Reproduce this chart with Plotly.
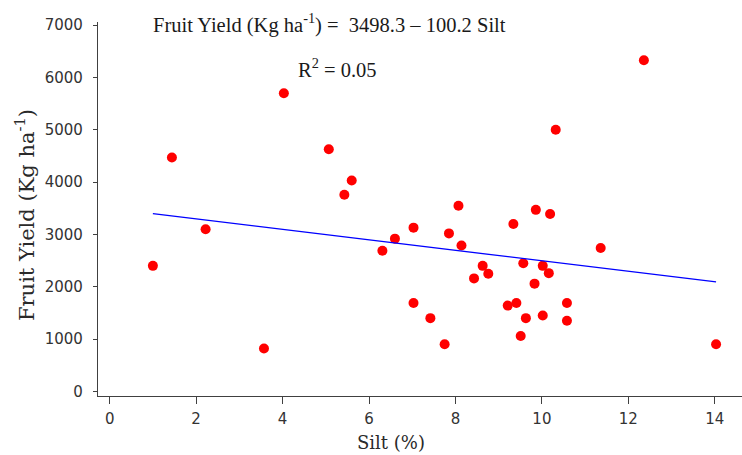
import plotly.graph_objects as go

# Silt content (%) and fruit yield (Kg/ha) for each sampled plot
silt = [1.00, 1.44, 2.22, 3.57, 4.03, 5.07, 5.43, 5.60, 6.31, 6.60,
        7.03, 7.03, 7.42, 7.75, 7.85, 8.07, 8.14, 8.43, 8.63, 8.76,
        9.21, 9.34, 9.41, 9.51, 9.57, 9.63, 9.86, 9.83, 10.02, 10.02,
        10.19, 10.16, 10.32, 10.58, 10.58, 11.36, 12.36, 14.03]
fruit_yield = [2400, 4470, 3100, 820, 5700, 4630, 3760, 4030, 2690, 2920,
               3130, 1690, 1400, 900, 3020, 3550, 2790, 2160, 2400, 2250,
               1640, 3200, 1690, 1060, 2450, 1400, 3470, 2060, 2400, 1450,
               3390, 2260, 5000, 1690, 1350, 2740, 6330, 900]

# Fitted linear model: yield = a + b * silt
intercept = 3498.3
slope = -100.2
r_squared = 0.05

x_ticks = [0, 2, 4, 6, 8, 10, 12, 14]
y_ticks = [0, 1000, 2000, 3000, 4000, 5000, 6000, 7000]

fit_x = [min(silt), max(silt)]
fit_y = [intercept + slope * v for v in fit_x]

serif = "Liberation Serif, Times New Roman, serif"
wide_serif = "DejaVu Serif, serif"
tick_font = "DejaVu Sans, sans-serif"
axis_col = "#404040"
text_col = "#1a1a1a"

W, H = 742, 455
ML, MR, MT, MB = 98, 0, 22, 59
plot_w = W - ML - MR
plot_h = H - MT - MB


def px_x(p):
    return (p - ML) / plot_w


def px_y(p):
    return 1 - (p - MT) / plot_h


fig = go.Figure()
fig.add_trace(go.Scatter(
    x=silt, y=fruit_yield, mode="markers",
    marker=dict(color="#ff0000", size=10, line=dict(width=0)),
    showlegend=False, hoverinfo="x+y"))
fig.add_trace(go.Scatter(
    x=fit_x, y=fit_y, mode="lines",
    line=dict(color="#0000ff", width=1.3),
    showlegend=False, hoverinfo="skip"))

# Regression equation and coefficient of determination
fig.add_annotation(
    x=px_x(151), y=px_y(23), xref="paper", yref="paper", xanchor="left", yanchor="middle",
    text="Fruit Yield (Kg ha<sup>-1</sup>) =  %.1f \u2013 %.1f Silt" % (intercept, -slope),
    showarrow=False, font=dict(family=serif, size=20.5, color=text_col))
fig.add_annotation(
    x=px_x(296), y=px_y(68), xref="paper", yref="paper", xanchor="left", yanchor="middle",
    text="R<sup>2</sup> = %.2f" % r_squared,
    showarrow=False, font=dict(family=serif, size=20.5, color=text_col))

# Axis titles
fig.add_annotation(
    x=px_x(25), y=px_y(215), xref="paper", yref="paper", xanchor="center", yanchor="middle",
    text="Fruit Yield (Kg ha<sup>-1</sup>)", textangle=-90, showarrow=False,
    font=dict(family=wide_serif, size=21, color="#2a2a2a"))
fig.add_annotation(
    x=px_x(391), y=px_y(442), xref="paper", yref="paper", xanchor="center", yanchor="middle",
    text="Silt (%)", showarrow=False,
    font=dict(family=wide_serif, size=18, color="#2a2a2a"))

fig.update_layout(
    width=W, height=H,
    margin=dict(l=ML, r=MR, t=MT, b=MB),
    paper_bgcolor="white", plot_bgcolor="white",
    font=dict(family=tick_font, size=15, color="#333333"),
    xaxis=dict(
        range=[-0.27, 14.63], tickvals=x_ticks, ticktext=[str(t) for t in x_ticks],
        showgrid=False, zeroline=False, showline=True, linecolor=axis_col, linewidth=1.3,
        ticks="outside", ticklen=7, tickcolor=axis_col, tickwidth=1.3,
        ticklabelstandoff=2,
    ),
    yaxis=dict(
        range=[-88, 7061], tickvals=y_ticks, ticktext=[str(t) for t in y_ticks],
        showgrid=False, zeroline=False, showline=True, linecolor=axis_col, linewidth=1.3,
        ticks="outside", ticklen=4, tickcolor=axis_col, tickwidth=1.3,
        ticklabelstandoff=7,
    ),
)

fig.write_html("out.html")
